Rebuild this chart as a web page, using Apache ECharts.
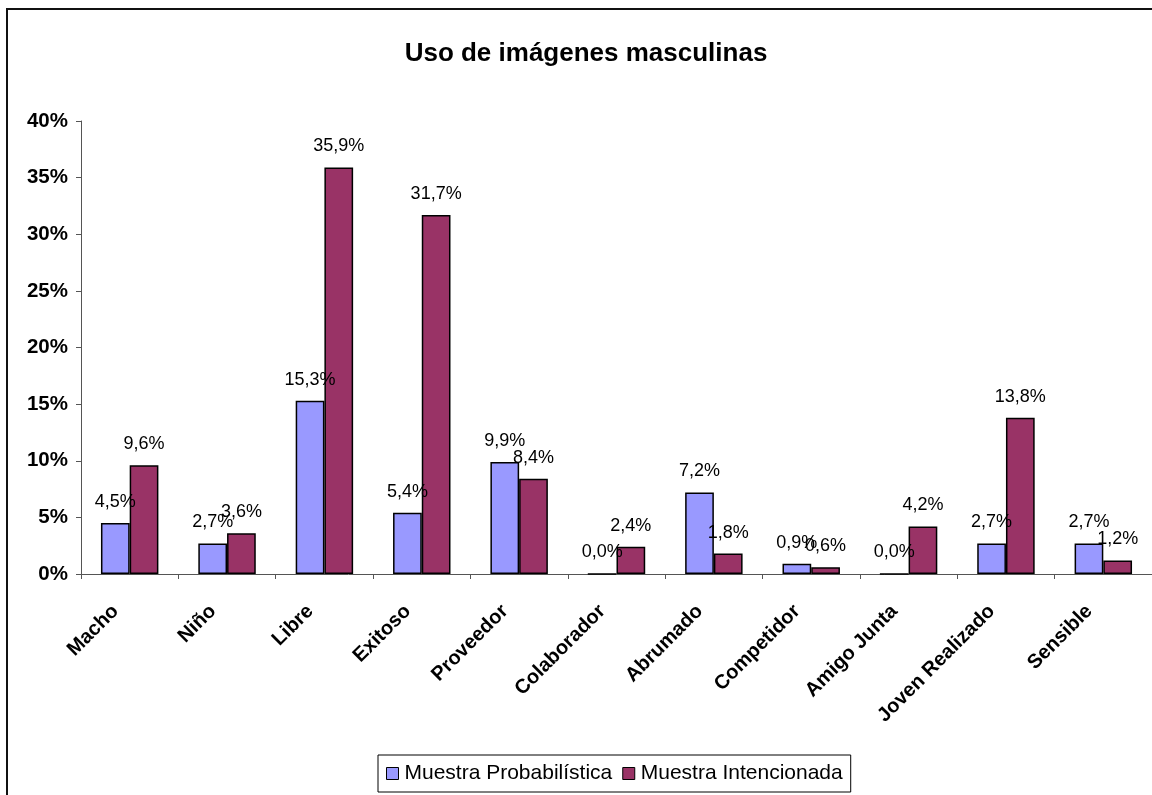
<!DOCTYPE html>
<html>
<head>
<meta charset="utf-8">
<script src="https://cdn.jsdelivr.net/npm/echarts@6/dist/echarts.min.js"></script>
<style>
html,body{margin:0;padding:0;background:#fff;}
#chart{width:1152px;height:795px;}
</style>
</head>
<body>
<div id="chart"></div>
<script>
const categories = ['Macho','Niño','Libre','Exitoso','Proveedor','Colaborador','Abrumado','Competidor','Amigo Junta','Joven Realizado','Sensible'];
const probabilistica = [4.5, 2.7, 15.3, 5.4, 9.9, 0.0, 7.2, 0.9, 0.0, 2.7, 2.7];
const intencionada = [9.6, 3.6, 35.9, 31.7, 8.4, 2.4, 1.8, 0.6, 4.2, 13.8, 1.2];
const seriesNames = ['Muestra Probabilística', 'Muestra Intencionada'];
const FONT = '"Liberation Sans", Arial, sans-serif';

const chart = echarts.init(document.getElementById('chart'));
const fmt = p => p.value.toFixed(1).replace('.', ',') + '%';
const labelCfg = {show: true, position: 'top', distance: 12, color: '#000', fontFamily: FONT, fontSize: 18, formatter: fmt};

chart.setOption({
  animation: false,
  backgroundColor: '#fff',
  graphic: [{
    type: 'rect',
    shape: {x: 7, y: 9, width: 1200, height: 850},
    style: {fill: 'none', stroke: '#111', lineWidth: 2},
    silent: true, z: 100
  }],
  title: {
    text: 'Uso de imágenes masculinas',
    left: 581, top: 36, textAlign: 'center',
    textStyle: {fontFamily: FONT, fontSize: 26, fontWeight: 'bold', color: '#000'}
  },
  legend: {
    data: seriesNames,
    left: 378, top: 755,
    orient: 'horizontal',
    icon: 'rect', itemWidth: 12, itemHeight: 12, itemGap: 10,
    padding: [8, 8, 8, 8],
    borderColor: '#000', borderWidth: 1,
    itemStyle: {borderColor: '#000', borderWidth: 1},
    textStyle: {fontFamily: FONT, fontSize: 21, color: '#000', padding: [0, 0, 0, 1]}
  },
  grid: {left: 81, right: 0, top: 121, bottom: 221, containLabel: false},
  xAxis: {
    type: 'category', data: categories,
    axisLine: {lineStyle: {color: '#555', width: 1}},
    axisTick: {show: true, length: 5, lineStyle: {color: '#555'}},
    axisLabel: {interval: 0, rotate: 45, margin: 20, padding: [0, 20, 0, 0], fontFamily: FONT, fontSize: 20, fontWeight: 'bold', color: '#000'}
  },
  yAxis: {
    type: 'value', min: 0, max: 40, interval: 5,
    splitLine: {show: false},
    axisLine: {show: true, lineStyle: {color: '#555', width: 1}},
    axisTick: {show: true, length: 5, lineStyle: {color: '#555'}},
    axisLabel: {margin: 13, formatter: '{value}%', fontFamily: FONT, fontSize: 20.5, fontWeight: 'bold', color: '#000'}
  },
  series: [
    {
      name: seriesNames[0], type: 'bar', data: probabilistica,
      barGap: '0%', barCategoryGap: '41%',
      itemStyle: {color: '#9999FF', borderColor: '#000', borderWidth: 1.5},
      label: labelCfg
    },
    {
      name: seriesNames[1], type: 'bar', data: intencionada,
      barGap: '0%', barCategoryGap: '41%',
      itemStyle: {color: '#993366', borderColor: '#000', borderWidth: 1.5},
      label: labelCfg
    }
  ]
});
</script>
</body>
</html>
